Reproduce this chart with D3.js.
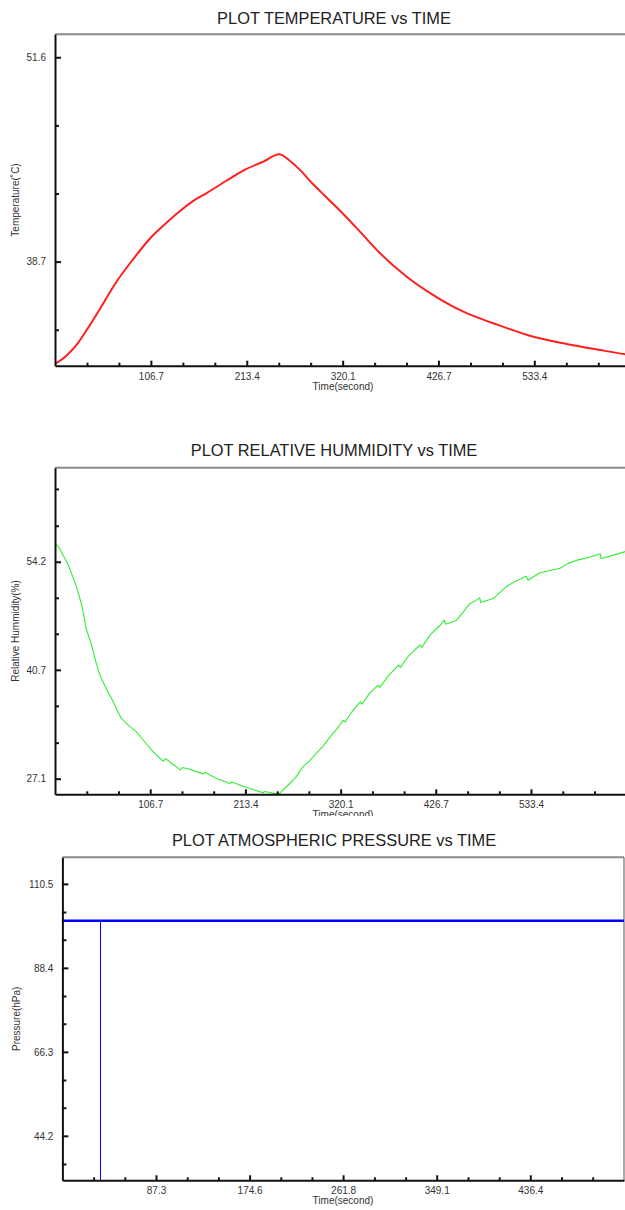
<!DOCTYPE html>
<html>
<head>
<meta charset="utf-8">
<script src="https://cdnjs.cloudflare.com/ajax/libs/d3/7.8.5/d3.min.js"></script>
<style>
body { margin: 0; background: #fff; }
svg { display: block; font-family: "Liberation Sans", Arial, sans-serif; }
</style>
</head>
<body>
<svg id="chart" width="625" height="1210"></svg>
<script>
// ---- temperature (red) ----
var tempTime  = [0, 13, 24, 35.3, 50, 66.8, 87.2, 105.7, 124.3, 139.1, 153.9, 168.8, 191.1, 209.5,
                 231.8, 249.6, 261.5, 272.6, 286, 300.5, 320.8, 339.4, 361.7, 391.4, 421, 454.4,
                 487.8, 532.3, 569.4, 606.5, 634.3, 640];
var tempValue = [32.24, 32.78, 33.44, 34.38, 35.71, 37.29, 38.87, 40.16, 41.17, 41.9, 42.53, 43.03,
                 43.82, 44.45, 45.01, 45.48, 45.05, 44.49, 43.66, 42.84, 41.71, 40.59, 39.23, 37.75,
                 36.59, 35.54, 34.81, 33.96, 33.5, 33.12, 32.85, 32.8];

// ---- relative humidity (green) ----
var humTime  = [0, 5, 11, 14, 17, 24, 30, 35.3, 41, 45, 50.4, 58, 65.3, 70, 74.6, 83, 91.4, 99, 106.5,
                114, 121.3, 124, 131, 140.7, 143, 150, 166, 168, 180, 196, 198, 215, 233, 235, 248,
                252, 263, 270, 278, 285, 293, 300, 308, 315, 323, 325, 333, 342, 344, 352, 362, 364,
                374, 385, 387, 396, 409, 411, 420, 427, 432, 436, 438, 450, 458, 465, 474, 476, 477,
                491, 500, 506, 515, 528, 530, 543, 555, 566, 575, 585, 600, 611, 612, 625, 640];
var humValue = [56.5, 55.9, 54.6, 54.0, 53.2, 51.1, 48.8, 45.7, 43.8, 42.0, 40.0, 38.2, 36.7, 35.6,
                34.6, 33.7, 32.95, 31.9, 30.9, 30.0, 29.3, 29.6, 29.0, 28.2, 28.5, 28.3, 27.7, 27.9,
                27.2, 26.5, 26.7, 26.0, 25.35, 25.5, 25.2, 25.3, 26.5, 27.3, 28.6, 29.3, 30.3, 31.1,
                32.3, 33.2, 34.4, 34.2, 35.5, 36.7, 36.4, 37.7, 38.8, 38.5, 40.0, 41.3, 41.0, 42.4,
                43.8, 43.5, 45.0, 45.8, 46.3, 46.9, 46.4, 46.9, 48.0, 49.0, 49.5, 49.7, 49.1, 49.6,
                50.5, 51.1, 51.7, 52.4, 51.9, 52.8, 53.1, 53.4, 54.0, 54.4, 54.8, 55.2, 54.6, 55.0, 55.5];

// ---- atmospheric pressure (blue) ----
var presTime  = [0, 35.4, 523.8];
var presValue = [100.8, 100.8, 100.8];
var presGlitchTime = 35.4;   // single zero reading
var presGlitchValue = 0;

// ---- ticks ----
var xMajorA = [106.7, 213.4, 320.1, 426.7, 533.4];
var xMinorA = [35.6, 71.1, 142.3, 177.8, 249.0, 284.5, 355.7, 391.2, 462.4, 497.9, 569.0, 604.6];
var xMajorP = [87.3, 174.6, 261.8, 349.1, 436.4];
var xMinorP = [29.1, 58.2, 116.4, 145.5, 203.7, 232.8, 291.0, 320.1, 378.3, 407.4, 465.5, 494.6];
var tempMajor = [51.6, 38.7];
var tempMinor = [47.3, 43.0, 34.4];
var humMajor = [54.2, 40.7, 27.1];
var humMinor = [63.3, 58.7, 49.7, 45.2, 36.2, 31.6];
var presMajor = [110.5, 88.4, 66.3, 44.2];
var presMinor = [103.1, 95.8, 81.0, 73.7, 58.9, 51.6, 36.8];

var svg = d3.select("#chart");

function zip(ts, vs) {
	return ts.map(function(t, i){ return {t: t, v: vs[i]}; });
}

function drawPanel(c)
{
	var g = svg.append("g").attr("id", c.id);
	var x = d3.scaleLinear().domain(c.xDomain).range([c.left, c.right]);
	var y = d3.scaleLinear().domain(c.yDomain).range([c.bottom, c.top]);

	if (c.clip) {
		svg.append("clipPath").attr("id", c.id + "-panel")
			.append("rect").attr("x", 0).attr("y", c.clip[0]).attr("width", 625).attr("height", c.clip[1] - c.clip[0]);
		g.attr("clip-path", "url(#" + c.id + "-panel)");
	}
	svg.append("clipPath").attr("id", c.id + "-plot")
		.append("rect").attr("x", c.left).attr("y", c.top).attr("width", c.right - c.left).attr("height", c.bottom - c.top);

	g.append("text")
		.attr("x", 334).attr("y", c.titleY)
		.attr("text-anchor", "middle")
		.style("font-size", "16.4px").style("fill", "#222")
		.text(c.title);

	// frame: grey top (and right, if visible)
	g.append("line")
		.attr("x1", c.left).attr("x2", c.right).attr("y1", c.top).attr("y2", c.top)
		.style("stroke", "#8a8a8a").style("stroke-width", 2);
	if (c.rightBorder) {
		g.append("line")
			.attr("x1", c.right).attr("x2", c.right).attr("y1", c.top).attr("y2", c.bottom)
			.style("stroke", "#555").style("stroke-width", 1);
	}

	// data
	var line = d3.line().x(function(d){return x(d.t)}).y(function(d){return y(d.v)}).curve(c.curve || d3.curveLinear);
	var plot = g.append("g").attr("clip-path", "url(#" + c.id + "-plot)");
	plot.append("path")
		.datum(c.data)
		.attr("d", line)
		.attr("fill", "none")
		.style("stroke", c.colour)
		.style("stroke-width", c.width)
		.style("stroke-linejoin", "round");
	if (c.glitch) {
		var base = c.data.filter(function(d){return d.t === c.glitch.t})[0];
		plot.append("line")
			.attr("x1", Math.round(x(c.glitch.t)) + 0.5).attr("x2", Math.round(x(c.glitch.t)) + 0.5)
			.attr("y1", y(base.v)).attr("y2", y(c.glitch.v))
			.style("stroke", c.colour).style("stroke-width", 1);
	}

	// axes: ticks point inward, majors longer and labelled
	var xAxis = d3.axisBottom(x)
		.tickValues(c.xMajor.concat(c.xMinor))
		.tickFormat(function(d){ return c.xMajor.indexOf(d) >= 0 ? d3.format(".1f")(d) : ""; })
		.tickSizeInner(-5).tickSizeOuter(0).tickPadding(7);
	var gx = g.append("g").attr("transform", "translate(0," + c.bottom + ")").call(xAxis);
	gx.selectAll(".tick line")
		.attr("y2", function(d){ return c.xMajor.indexOf(d) >= 0 ? -5 : -3; });

	var yAxis = d3.axisLeft(y)
		.tickValues(c.yMajor.concat(c.yMinor))
		.tickFormat(function(d){ return c.yMajor.indexOf(d) >= 0 ? d3.format(".1f")(d) : ""; })
		.tickSizeInner(-6).tickSizeOuter(0).tickPadding(9);
	var gy = g.append("g").attr("transform", "translate(" + c.left + ",0)").call(yAxis);
	gy.selectAll(".tick line")
		.attr("x2", function(d){ return c.yMajor.indexOf(d) >= 0 ? 6 : 4; });

	[gx, gy].forEach(function(a){
		a.select(".domain").style("stroke", "#111").style("stroke-width", 2);
		a.selectAll(".tick line").style("stroke", "#111").style("stroke-width", 2);
		a.selectAll(".tick text").style("font-size", "10px").style("fill", "#333")
			.style("font-family", "'Liberation Sans', Arial, sans-serif");
	});

	g.append("text")
		.attr("x", 343).attr("y", c.bottom + 24)
		.attr("text-anchor", "middle")
		.style("font-size", "10px").style("fill", "#333")
		.text("Time(second)");

	g.append("text")
		.attr("transform", "translate(" + c.yLabelX + "," + ((c.top + c.bottom) / 2) + ")rotate(-90)")
		.attr("text-anchor", "middle")
		.style("font-size", "10px").style("fill", "#333")
		.text(c.yLabel);
}

drawPanel({id: "temp", title: "PLOT TEMPERATURE vs TIME", titleY: 23.5,
	yLabel: "Temperature(˚C)", yLabelX: 19,
	left: 55, right: 630.3, top: 34.3, bottom: 365.7,
	xDomain: [0, 640.2], yDomain: [32.13, 53.05],
	xMajor: xMajorA, xMinor: xMinorA, yMajor: tempMajor, yMinor: tempMinor,
	data: zip(tempTime, tempValue), colour: "#ff1f1f", width: 2, curve: d3.curveMonotoneX});

drawPanel({id: "hum", title: "PLOT RELATIVE HUMMIDITY vs TIME", titleY: 456,
	yLabel: "Relative Hummidity(%)", yLabelX: 19,
	left: 55, right: 626.3, top: 467.7, bottom: 794.3, clip: [420, 816],
	xDomain: [0, 640.2], yDomain: [25.15, 65.95],
	xMajor: xMajorA, xMinor: xMinorA, yMajor: humMajor, yMinor: humMinor,
	data: zip(humTime, humValue), colour: "#33ee33", width: 1.1});

drawPanel({id: "pres", title: "PLOT ATMOSPHERIC PRESSURE vs TIME", titleY: 845.5,
	yLabel: "Pressure(hPa)", yLabelX: 20,
	left: 62.4, right: 624, top: 857.3, bottom: 1180.3, rightBorder: true,
	xDomain: [0, 523.8], yDomain: [32.5, 117.5],
	xMajor: xMajorP, xMinor: xMinorP, yMajor: presMajor, yMinor: presMinor,
	data: zip(presTime, presValue), colour: "#0000ff", width: 2.5,
	glitch: {t: presGlitchTime, v: presGlitchValue}});
</script>
</body>
</html>
